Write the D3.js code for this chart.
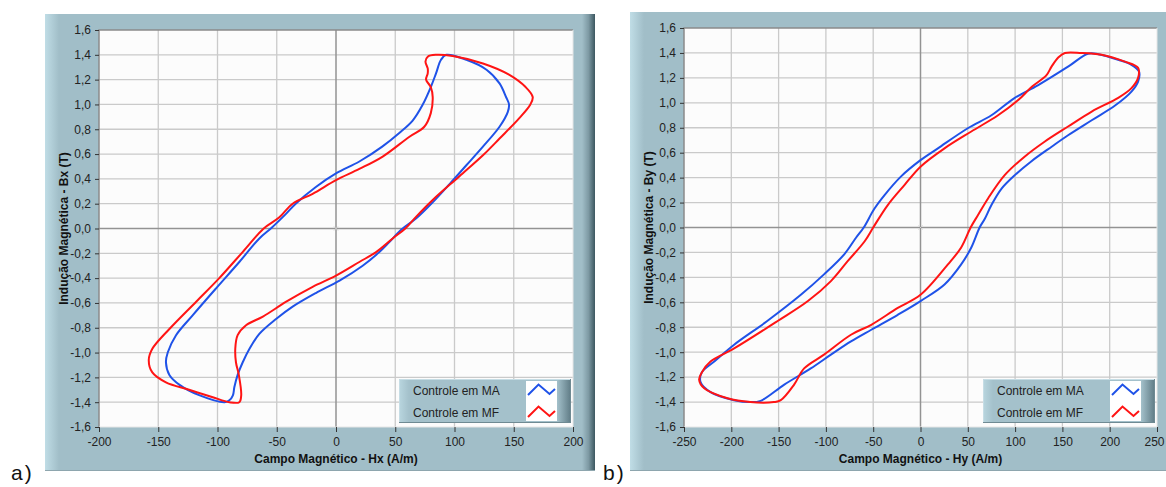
<!DOCTYPE html>
<html><head><meta charset="utf-8">
<script src="https://cdn.jsdelivr.net/npm/d3@7"></script>
<style>
body{margin:0;background:#fff;}
svg{display:block;font-family:"Liberation Sans",Arial,sans-serif;}
</style>
</head><body>
<svg id="c" width="1166" height="487"></svg>
<script>
// ---------- data ----------
const seriesNames = ["Controle em MA", "Controle em MF"];
const yTickValues = [-1.6, -1.4, -1.2, -1.0, -0.8, -0.6, -0.4, -0.2, 0, 0.2, 0.4, 0.6, 0.8, 1.0, 1.2, 1.4, 1.6];
const xTickValuesA = [-200, -150, -100, -50, 0, 50, 100, 150, 200];
const xTickValuesB = [-250, -200, -150, -100, -50, 0, 50, 100, 150, 200, 250];

// panel a) Hx (A/m) vs Bx (T)
const maHxA = [93, 110, 127, 138, 143.5, 146, 145, 138, 124, 110, 96, 82, 67.5, 55, 45, 36.6, 22.5, 3, -17, -36.6, -50.6, -64.7, -73, -78.8, -83, -85.8, -87, -90, -94, -115, -132, -140.6, -143.5, -142, -135, -121, -101, -81.6, -64.7, -55, -42, -34, -17, 0, 19.7, 39, 53.4, 64.7, 73, 80, 84.4, 88.6];
const maBxA = [1.40, 1.36, 1.28, 1.17, 1.06, 1.0, 0.94, 0.82, 0.66, 0.51, 0.36, 0.215, 0.08, -0.01, -0.11, -0.19, -0.30, -0.42, -0.52, -0.63, -0.73, -0.85, -0.97, -1.08, -1.18, -1.28, -1.345, -1.385, -1.40, -1.345, -1.26, -1.18, -1.08, -1.0, -0.86, -0.70, -0.48, -0.27, -0.08, 0, 0.12, 0.2, 0.335, 0.444, 0.54, 0.66, 0.77, 0.87, 0.995, 1.14, 1.25, 1.36];
const mfHxA = [84.4, 98.5, 124, 146, 160, 166, 164, 154.7, 138, 124, 104, 81.6, 67.5, 58.5, 47.8, 33.8, 19.7, 0, -19.7, -42, -61.7, -75.9, -83, -85, -84.4, -82, -80, -81.6, -90, -104, -124, -143.5, -155, -158, -155, -140.6, -118, -98.5, -78.8, -61, -47.8, -36.6, -19.7, 0, 19.7, 39.4, 62, 74.5, 80, 81.6, 80, 76, 77.4, 77.4, 75.5, 77.4];
const mfBxA = [1.40, 1.39, 1.33, 1.24, 1.14, 1.06, 1.0, 0.89, 0.725, 0.59, 0.42, 0.23, 0.094, 0, -0.08, -0.19, -0.27, -0.38, -0.47, -0.59, -0.71, -0.78, -0.86, -0.97, -1.08, -1.18, -1.345, -1.40, -1.40, -1.36, -1.30, -1.24, -1.16, -1.06, -0.97, -0.81, -0.59, -0.40, -0.19, 0, 0.09, 0.20, 0.28, 0.39, 0.48, 0.58, 0.74, 0.82, 0.93, 1.06, 1.14, 1.2, 1.25, 1.29, 1.345, 1.385];

// panel b) Hy (A/m) vs By (T)
const maHyB = [177, 188, 209, 223, 231, 230, 223, 206, 181, 156, 139, 117, 99.7, 85.5, 75, 68, 62.5, 53.7, 43, 25.4, 0, -24, -52, -73.5, -94.7, -116, -144, -169, -180, -197, -222, -232.5, -231, -218, -197, -162, -126.5, -102, -80.6, -68, -60, -48.8, -38, -20.5, 0, 18.4, 50, 75, 99.7, 124, 156];
const maByB = [1.394, 1.39, 1.345, 1.305, 1.25, 1.17, 1.09, 0.98, 0.86, 0.74, 0.65, 0.53, 0.42, 0.31, 0.18, 0.07, 0, -0.16, -0.296, -0.457, -0.59, -0.70, -0.82, -0.914, -1.02, -1.13, -1.26, -1.39, -1.40, -1.385, -1.32, -1.24, -1.16, -1.075, -0.94, -0.75, -0.54, -0.376, -0.215, -0.08, 0, 0.15, 0.26, 0.41, 0.54, 0.635, 0.796, 0.90, 1.04, 1.14, 1.29];
const mfHyB = [152.7, 170, 191.5, 216, 230, 230, 223, 209, 181, 156, 131.5, 110, 89, 71.4, 60.8, 53, 43, 29, 0, -24, -52, -73.5, -102, -123, -133.6, -147.7, -155, -180, -204, -228.6, -234, -231, -222, -197, -151, -119, -94.7, -77, -59, -50, -34.6, -17, 0, 25.4, 53.7, 82, 103, 118, 133, 138.5, 145.6];
const mfByB = [1.40, 1.40, 1.385, 1.33, 1.28, 1.2, 1.118, 1.04, 0.93, 0.81, 0.69, 0.568, 0.42, 0.233, 0.1, 0, -0.16, -0.296, -0.54, -0.645, -0.78, -0.86, -1.02, -1.13, -1.26, -1.385, -1.40, -1.40, -1.37, -1.29, -1.22, -1.16, -1.075, -0.97, -0.75, -0.59, -0.43, -0.27, -0.11, 0, 0.18, 0.34, 0.488, 0.635, 0.77, 0.90, 1.02, 1.13, 1.22, 1.29, 1.364];

const seriesColors = ["#1f52e8", "#ff1414"];

// ---------- drawing ----------
const loc = d3.formatLocale({decimal: ",", thousands: ".", grouping: [3], currency: ["", ""], minus: "-"});
const fmtY = loc.format(".1f");
const fmtX = loc.format("d");

const svg = d3.select("#c");
const defs = svg.append("defs");
function hGrad(id, stops) {
  const g = defs.append("linearGradient").attr("id", id).attr("x1", 0).attr("x2", 1).attr("y1", 0).attr("y2", 0);
  stops.forEach(s => g.append("stop").attr("offset", s[0]).attr("stop-color", s[1]));
}
hGrad("gLeft", [[0, "#c0dde6"], [1, "#a1bec8"]]);
hGrad("gRightDark", [[0, "#a1bec8"], [0.5, "#7e9aa4"], [1, "#3c5760"]]);
hGrad("gLegL", [[0, "#b9d6df"], [1, "#a4c1cb"]]);
hGrad("gLegR", [[0, "#a4c1cb"], [1, "#5f7b85"]]);

const FRAME = "#a1bec8";

const panels = [
  {frame: [45, 14, 550, 457], darkRight: true, plot: [99, 30, 573, 427], xTicks: xTickValuesA,
   xTitle: "Campo Magnético - Hx (A/m)", yTitle: "Indução Magnética - Bx (T)", label: "a)", labelX: 11,
   series: [{h: maHxA, b: maBxA}, {h: mfHxA, b: mfBxA}], legend: [399, 379, 172, 44]},
  {frame: [630, 12, 540, 459], darkRight: false, plot: [684, 28, 1157, 427], xTicks: xTickValuesB,
   xTitle: "Campo Magnético - Hy (A/m)", yTitle: "Indução Magnética - By (T)", label: "b)", labelX: 603,
   series: [{h: maHyB, b: maByB}, {h: mfHyB, b: mfByB}], legend: [983, 379, 172, 44]}
];

panels.forEach(p => {
  const [fx, fy, fw, fh] = p.frame;
  const [x0, y0, x1, y1] = p.plot;
  const g = svg.append("g");
  // frame
  g.append("rect").attr("x", fx).attr("y", fy).attr("width", fw).attr("height", fh).attr("fill", FRAME);
  g.append("rect").attr("x", fx).attr("y", fy).attr("width", 14).attr("height", fh).attr("fill", "url(#gLeft)");
  if (p.darkRight) g.append("rect").attr("x", fx + fw - 13).attr("y", fy).attr("width", 13).attr("height", fh).attr("fill", "url(#gRightDark)");
  g.append("line").attr("x1", fx).attr("x2", fx + fw).attr("y1", fy + fh - 0.5).attr("y2", fy + fh - 0.5).attr("stroke", "#8ea6ae");

  const xDom = d3.extent(p.xTicks);
  const x = d3.scaleLinear().domain(xDom).range([x0, x1]);
  const y = d3.scaleLinear().domain([-1.6, 1.6]).range([y1, y0]);

  // plot area
  g.append("rect").attr("x", x0).attr("y", y0).attr("width", x1 - x0).attr("height", y1 - y0).attr("fill", "#fcfcfc");

  // grid
  g.selectAll(null).data(yTickValues.filter(v => v !== 0 && Math.abs(v) < 1.6)).join("line")
    .attr("x1", x0).attr("x2", x1).attr("y1", d => y(d)).attr("y2", d => y(d))
    .attr("stroke", "#cacaca").attr("stroke-width", 1.3);
  g.selectAll(null).data(p.xTicks.filter(v => v !== 0 && v !== xDom[0] && v !== xDom[1])).join("line")
    .attr("y1", y0).attr("y2", y1).attr("x1", d => x(d)).attr("x2", d => x(d))
    .attr("stroke", "#cacaca").attr("stroke-width", 1.3);
  // zero lines
  g.append("line").attr("x1", x0).attr("x2", x1).attr("y1", y(0)).attr("y2", y(0)).attr("stroke", "#939393").attr("stroke-width", 1.5);
  g.append("line").attr("y1", y0).attr("y2", y1).attr("x1", x(0)).attr("x2", x(0)).attr("stroke", "#939393").attr("stroke-width", 1.5);
  g.append("path").attr("d", `M${x(0)-2},${y(0)-2}L${x(0)+2},${y(0)+2}M${x(0)-2},${y(0)+2}L${x(0)+2},${y(0)-2}`)
    .attr("stroke", "#d0d0d0").attr("stroke-width", 1);
  // plot border (sunken)
  g.append("path").attr("d", `M${x0},${y1}L${x0},${y0}L${x1},${y0}`).attr("fill", "none").attr("stroke", "#8a8a8a").attr("stroke-width", 1.5);
  g.append("path").attr("d", `M${x1},${y0}L${x1},${y1}L${x0},${y1}`).attr("fill", "none").attr("stroke", "#e6e6e6").attr("stroke-width", 1);

  // curves
  const line = d3.line().x(d => x(d[0])).y(d => y(d[1])).curve(d3.curveCatmullRomClosed.alpha(0.5));
  p.series.forEach((s, i) => {
    const pts = s.h.map((h, k) => [h, s.b[k]]);
    g.append("path").attr("d", line(pts)).attr("fill", "none")
      .attr("stroke", seriesColors[i]).attr("stroke-width", 2).attr("stroke-linejoin", "round");
  });

  // axes
  const ay = g.append("g").attr("transform", `translate(${x0},0)`)
    .call(d3.axisLeft(y).tickValues(yTickValues).tickFormat(fmtY).tickSize(4).tickPadding(4));
  const ax = g.append("g").attr("transform", `translate(0,${y1})`)
    .call(d3.axisBottom(x).tickValues(p.xTicks).tickFormat(fmtX).tickSize(5).tickPadding(5));
  [ay, ax].forEach(a => {
    a.select(".domain").remove();
    a.selectAll(".tick line").attr("stroke", "#333");
    a.selectAll("text").attr("fill", "#222").style("font-size", "12px").style("font-family", '"Liberation Sans",Arial,sans-serif');
  });
  // keep the last x label inside the window
  ax.selectAll(".tick text").filter(d => d === xDom[1] && x1 > 1150).attr("dx", "-3px");

  // titles
  g.append("text").attr("x", (x0 + x1) / 2).attr("y", 462.5).attr("text-anchor", "middle")
    .style("font-size", "12px").style("font-weight", "bold").attr("fill", "#111").text(p.xTitle);
  g.append("text").attr("transform", `translate(${fx + 22.5},${(y0 + y1) / 2}) rotate(-90)`).attr("text-anchor", "middle")
    .style("font-size", "12px").style("font-weight", "bold").attr("fill", "#111").text(p.yTitle);

  // panel label
  g.append("text").attr("x", p.labelX).attr("y", 480).style("font-size", "21px").style("letter-spacing", "2px")
    .attr("fill", "#111").text(p.label);

  // legend
  const [lx, ly, lw, lh] = p.legend;
  const lg = g.append("g");
  lg.append("rect").attr("x", lx).attr("y", ly).attr("width", lw).attr("height", lh).attr("fill", "#a4c1cb");
  lg.append("rect").attr("x", lx).attr("y", ly).attr("width", 10).attr("height", lh).attr("fill", "url(#gLegL)");
  lg.append("rect").attr("x", lx + lw - 14).attr("y", ly).attr("width", 14).attr("height", lh).attr("fill", "url(#gLegR)");
  lg.append("path").attr("d", `M${lx+0.5},${ly+lh}L${lx+0.5},${ly+0.5}L${lx+lw},${ly+0.5}`).attr("fill", "none").attr("stroke", "#c6dde5");
  lg.append("path").attr("d", `M${lx+lw-0.5},${ly}L${lx+lw-0.5},${ly+lh-0.5}L${lx},${ly+lh-0.5}`).attr("fill", "none").attr("stroke", "#6f8a93");
  const sx = lx + lw - 45, sw = 31;
  lg.append("rect").attr("x", sx).attr("y", ly + 2).attr("width", sw).attr("height", lh - 4).attr("fill", "#ffffff");
  seriesNames.forEach((name, i) => {
    const cy = ly + 11 + i * 22;
    lg.append("text").attr("x", lx + 14).attr("y", cy + 4.5).style("font-size", "12px").attr("fill", "#222").text(name);
    lg.append("path").attr("d", `M${sx+2},${cy+5}L${sx+12.5},${cy-5.5}L${sx+23.5},${cy+4}L${sx+29},${cy-1}`)
      .attr("fill", "none").attr("stroke", seriesColors[i]).attr("stroke-width", 2);
  });
});
</script>
</body></html>
